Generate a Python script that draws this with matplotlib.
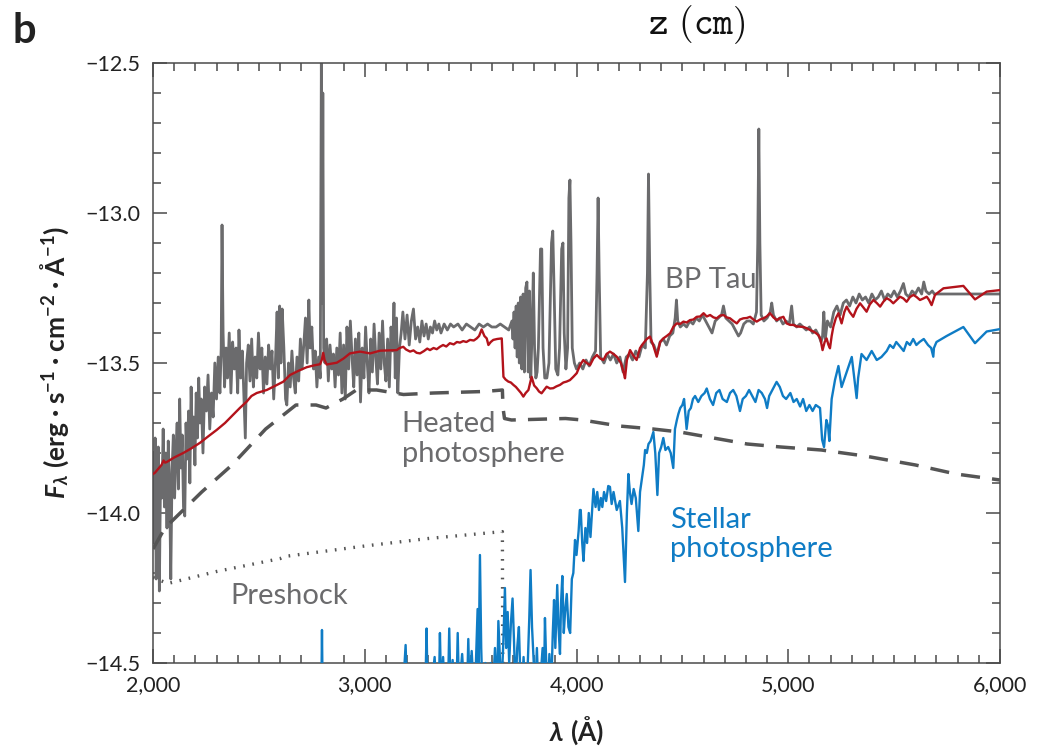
import numpy as np
import matplotlib
matplotlib.use("Agg")
import matplotlib.pyplot as plt
from matplotlib.ticker import MultipleLocator

# =========================
# 1. DATA  (wavelength in A, log10 F_lambda)
# =========================
# observed spectrum of BP Tau
bp_tau = [
    (2000, -13.80), (2005, -14.10), (2010, -13.75), (2015, -14.22), (2020, -13.90),
    (2025, -13.78), (2030, -14.26), (2036, -13.85), (2042, -13.95), (2048, -13.72),
    (2054, -13.98), (2060, -13.80), (2066, -14.05), (2072, -13.76), (2078, -13.90),
    (2084, -14.22), (2090, -13.86), (2096, -13.74), (2102, -13.95), (2108, -13.80),
    (2114, -13.70), (2120, -13.92), (2126, -13.62), (2132, -13.85), (2138, -13.74),
    (2144, -13.98), (2150, -14.01), (2156, -13.70), (2162, -13.82), (2168, -13.66),
    (2174, -13.90), (2180, -13.58), (2186, -13.78), (2192, -13.68), (2198, -13.84),
    (2204, -13.60), (2210, -13.75), (2216, -13.55), (2222, -13.70), (2228, -13.62),
    (2236, -13.80), (2244, -13.58), (2252, -13.66), (2260, -13.54), (2268, -13.72),
    (2276, -13.60), (2284, -13.68), (2292, -13.50), (2300, -13.62), (2308, -13.48),
    (2316, -13.60), (2322, -13.45), (2326, -13.04), (2331, -13.40), (2338, -13.58),
    (2345, -13.45), (2352, -13.55), (2360, -13.40), (2368, -13.60), (2376, -13.43),
    (2384, -13.52), (2392, -13.45), (2400, -13.60), (2406, -13.39), (2414, -13.55),
    (2422, -13.46), (2430, -13.62), (2436, -13.75), (2442, -13.50), (2450, -13.44),
    (2458, -13.56), (2466, -13.42), (2474, -13.58), (2482, -13.48), (2490, -13.55),
    (2498, -13.40), (2506, -13.52), (2514, -13.45), (2522, -13.60), (2530, -13.48),
    (2538, -13.57), (2546, -13.44), (2554, -13.52), (2562, -13.46), (2570, -13.62),
    (2578, -13.50), (2586, -13.33), (2592, -13.55), (2598, -13.31), (2604, -13.50),
    (2610, -13.32), (2618, -13.45), (2626, -13.62), (2632, -13.64), (2640, -13.50),
    (2648, -13.58), (2656, -13.46), (2664, -13.55), (2672, -13.60), (2680, -13.48),
    (2688, -13.56), (2696, -13.42), (2704, -13.52), (2712, -13.44), (2720, -13.35),
    (2728, -13.50), (2736, -13.29), (2742, -13.45), (2750, -13.38), (2758, -13.52),
    (2766, -13.46), (2774, -13.58), (2782, -13.48), (2790, -13.55), (2795, -12.50),
    (2799, -13.30), (2802, -12.60), (2806, -13.45), (2812, -13.50), (2820, -13.42),
    (2828, -13.56), (2836, -13.44), (2844, -13.52), (2852, -13.47), (2860, -13.58),
    (2868, -13.45), (2876, -13.54), (2884, -13.40), (2892, -13.60), (2900, -13.44),
    (2908, -13.62), (2916, -13.38), (2924, -13.52), (2932, -13.36), (2940, -13.48),
    (2948, -13.58), (2956, -13.42), (2964, -13.54), (2972, -13.40), (2980, -13.63),
    (2988, -13.45), (2996, -13.55), (3004, -13.38), (3012, -13.50), (3020, -13.60),
    (3028, -13.42), (3036, -13.53), (3044, -13.37), (3052, -13.48), (3060, -13.57),
    (3068, -13.40), (3076, -13.52), (3084, -13.36), (3092, -13.50), (3100, -13.56),
    (3108, -13.42), (3116, -13.58), (3124, -13.38), (3132, -13.46), (3138, -13.30),
    (3144, -13.55), (3150, -13.35), (3156, -13.60), (3164, -13.45), (3172, -13.40),
    (3180, -13.33), (3190, -13.42), (3200, -13.34), (3210, -13.44), (3220, -13.36),
    (3230, -13.32), (3240, -13.42), (3250, -13.38), (3260, -13.43), (3270, -13.36),
    (3280, -13.41), (3290, -13.37), (3300, -13.42), (3310, -13.38), (3320, -13.40),
    (3330, -13.36), (3340, -13.39), (3350, -13.37), (3360, -13.40), (3375, -13.37),
    (3390, -13.39), (3405, -13.37), (3420, -13.38), (3440, -13.37), (3460, -13.39),
    (3480, -13.37), (3500, -13.38), (3520, -13.39), (3540, -13.37), (3560, -13.38),
    (3580, -13.37), (3600, -13.38), (3620, -13.38), (3640, -13.37), (3660, -13.38),
    (3680, -13.39), (3695, -13.36), (3700, -13.42), (3705, -13.33), (3710, -13.45),
    (3715, -13.31), (3720, -13.48), (3725, -13.30), (3730, -13.50), (3736, -13.28),
    (3742, -13.52), (3748, -13.27), (3754, -13.53), (3760, -13.25), (3766, -13.23),
    (3772, -13.53), (3778, -13.26), (3784, -13.55), (3790, -13.40), (3796, -13.20),
    (3802, -13.45), (3808, -13.55), (3814, -13.53), (3820, -13.45), (3830, -13.12),
    (3836, -13.12), (3842, -13.45), (3850, -13.55), (3860, -13.55), (3870, -13.50),
    (3882, -13.10), (3888, -13.06), (3894, -13.25), (3902, -13.52), (3912, -13.54),
    (3920, -13.45), (3930, -13.12), (3936, -13.10), (3942, -13.40), (3950, -13.52),
    (3958, -13.45), (3964, -12.95), (3969, -12.89), (3974, -13.10), (3980, -13.45),
    (3990, -13.50), (4000, -13.52), (4015, -13.50), (4030, -13.52), (4045, -13.49),
    (4060, -13.51), (4075, -13.48), (4090, -13.46), (4097, -13.20), (4102, -12.95),
    (4107, -13.20), (4114, -13.48), (4130, -13.50), (4145, -13.47), (4160, -13.49),
    (4175, -13.47), (4190, -13.50), (4205, -13.48), (4220, -13.53), (4235, -13.48),
    (4250, -13.47), (4265, -13.49), (4280, -13.46), (4295, -13.48), (4310, -13.44),
    (4325, -13.45), (4335, -13.20), (4340, -12.87), (4346, -13.20), (4352, -13.43),
    (4365, -13.44), (4380, -13.47), (4395, -13.43), (4410, -13.42), (4425, -13.44),
    (4440, -13.41), (4455, -13.40), (4466, -13.35), (4472, -13.29), (4478, -13.36),
    (4490, -13.38), (4505, -13.37), (4520, -13.38), (4535, -13.36), (4550, -13.37),
    (4565, -13.35), (4580, -13.36), (4595, -13.34), (4610, -13.36), (4625, -13.38),
    (4640, -13.40), (4655, -13.36), (4670, -13.35), (4685, -13.34), (4694, -13.31),
    (4705, -13.35), (4720, -13.36), (4735, -13.37), (4750, -13.39), (4765, -13.41),
    (4775, -13.40), (4790, -13.37), (4805, -13.36), (4820, -13.36), (4835, -13.37),
    (4850, -13.33), (4856, -13.10), (4861, -12.72), (4866, -13.10), (4872, -13.34),
    (4885, -13.36), (4900, -13.35), (4915, -13.33), (4922, -13.30), (4930, -13.34),
    (4945, -13.36), (4960, -13.35), (4975, -13.37), (4990, -13.36), (5005, -13.37),
    (5016, -13.31), (5024, -13.37), (5040, -13.38), (5055, -13.37), (5070, -13.38),
    (5085, -13.39), (5100, -13.38), (5115, -13.40), (5130, -13.39), (5145, -13.41),
    (5155, -13.43), (5162, -13.41), (5168, -13.33), (5175, -13.42), (5185, -13.36),
    (5200, -13.38), (5215, -13.33), (5230, -13.31), (5245, -13.34), (5260, -13.30),
    (5275, -13.29), (5290, -13.31), (5305, -13.28), (5320, -13.30), (5335, -13.27),
    (5350, -13.29), (5365, -13.28), (5380, -13.30), (5395, -13.27), (5410, -13.29),
    (5425, -13.28), (5440, -13.26), (5455, -13.29), (5470, -13.27), (5485, -13.28),
    (5500, -13.26), (5515, -13.28), (5530, -13.26), (5544, -13.235), (5555, -13.27),
    (5570, -13.28), (5585, -13.26), (5600, -13.27), (5615, -13.25), (5630, -13.27),
    (5640, -13.23), (5650, -13.26), (5665, -13.27), (5680, -13.26), (5690, -13.27),
    (6000, -13.27),
]

# total accretion model (heated + preshock + stellar)
model_total = [
    (2000, -13.870), (2009, -13.866), (2040, -13.840), (2050, -13.825), (2057, -13.832),
    (2065, -13.830), (2100, -13.815), (2143, -13.800), (2180, -13.785), (2222, -13.766),
    (2260, -13.745), (2301, -13.723), (2340, -13.700), (2378, -13.673), (2410, -13.650),
    (2442, -13.629), (2465, -13.610), (2490, -13.600), (2537, -13.590), (2580, -13.575),
    (2616, -13.562), (2647, -13.540), (2690, -13.525), (2726, -13.514), (2760, -13.508),
    (2789, -13.504), (2797, -13.490), (2804, -13.466), (2810, -13.490), (2820, -13.505),
    (2868, -13.499), (2900, -13.485), (2930, -13.468), (2978, -13.462), (3025, -13.468),
    (3072, -13.459), (3151, -13.457), (3165, -13.450), (3182, -13.446), (3195, -13.455),
    (3214, -13.462), (3230, -13.458), (3245, -13.466), (3261, -13.468), (3280, -13.460),
    (3295, -13.452), (3308, -13.457), (3325, -13.450), (3340, -13.454), (3355, -13.446),
    (3370, -13.440), (3385, -13.445), (3402, -13.434), (3420, -13.438), (3435, -13.430),
    (3450, -13.432), (3465, -13.427), (3480, -13.430), (3497, -13.423), (3515, -13.425),
    (3529, -13.418), (3540, -13.410), (3552, -13.388), (3565, -13.410), (3576, -13.418),
    (3584, -13.440), (3595, -13.430), (3607, -13.423), (3625, -13.420), (3647, -13.418),
    (3652, -13.500), (3655, -13.546), (3665, -13.555), (3678, -13.562), (3690, -13.565),
    (3702, -13.573), (3714, -13.580), (3726, -13.590), (3738, -13.600), (3749, -13.612),
    (3760, -13.600), (3773, -13.590), (3780, -13.570), (3788, -13.546), (3800, -13.575),
    (3812, -13.584), (3823, -13.595), (3835, -13.601), (3847, -13.590), (3859, -13.579),
    (3875, -13.585), (3890, -13.584), (3905, -13.578), (3922, -13.573), (3938, -13.565),
    (3953, -13.562), (3969, -13.557), (3985, -13.546), (4001, -13.534), (4017, -13.507),
    (4032, -13.490), (4048, -13.500), (4064, -13.507), (4080, -13.485), (4096, -13.473),
    (4112, -13.485), (4127, -13.490), (4142, -13.470), (4158, -13.462), (4175, -13.470),
    (4190, -13.479), (4210, -13.500), (4222, -13.530), (4229, -13.551), (4238, -13.490),
    (4253, -13.457), (4268, -13.475), (4284, -13.490), (4300, -13.450), (4316, -13.434),
    (4332, -13.420), (4347, -13.412), (4362, -13.440), (4379, -13.479), (4395, -13.430),
    (4410, -13.418), (4426, -13.410), (4442, -13.401), (4457, -13.380), (4473, -13.368),
    (4489, -13.370), (4505, -13.362), (4520, -13.365), (4536, -13.357), (4552, -13.355),
    (4568, -13.346), (4584, -13.345), (4600, -13.334), (4615, -13.345), (4631, -13.340),
    (4647, -13.348), (4662, -13.351), (4678, -13.342), (4694, -13.340), (4710, -13.348),
    (4725, -13.351), (4741, -13.360), (4757, -13.368), (4772, -13.355), (4788, -13.351),
    (4804, -13.350), (4820, -13.346), (4835, -13.355), (4851, -13.362), (4867, -13.355),
    (4883, -13.351), (4898, -13.345), (4914, -13.334), (4930, -13.348), (4946, -13.357),
    (4961, -13.350), (4977, -13.346), (4992, -13.368), (5009, -13.373), (5024, -13.373),
    (5040, -13.378), (5056, -13.379), (5072, -13.380), (5087, -13.384), (5103, -13.390),
    (5118, -13.395), (5130, -13.400), (5142, -13.407), (5152, -13.420), (5162, -13.457),
    (5172, -13.430), (5181, -13.418), (5190, -13.440), (5197, -13.451), (5205, -13.410),
    (5213, -13.379), (5225, -13.350), (5237, -13.334), (5252, -13.368), (5265, -13.330),
    (5276, -13.312), (5290, -13.330), (5307, -13.346), (5322, -13.320), (5339, -13.301),
    (5355, -13.315), (5370, -13.329), (5385, -13.305), (5402, -13.290), (5418, -13.300),
    (5434, -13.312), (5450, -13.295), (5465, -13.284), (5480, -13.290), (5496, -13.301),
    (5512, -13.290), (5528, -13.279), (5544, -13.285), (5559, -13.296), (5575, -13.280),
    (5591, -13.273), (5606, -13.280), (5622, -13.290), (5638, -13.285), (5654, -13.279),
    (5665, -13.290), (5677, -13.307), (5685, -13.290), (5693, -13.273), (5733, -13.251),
    (5827, -13.243), (5882, -13.288), (5937, -13.262), (6000, -13.257),
]

# heated photosphere component (dashed)
heated = [
    (2000, -14.12), (2056, -14.05), (2230, -13.93), (2373, -13.84), (2532, -13.72),
    (2675, -13.64), (2770, -13.64), (2817, -13.65), (2897, -13.62), (2960, -13.59),
    (3056, -13.59), (3183, -13.605), (3325, -13.60), (3563, -13.595), (3650, -13.59),
    (3653, -13.65), (3660, -13.685), (3693, -13.69), (3948, -13.685), (4027, -13.69),
    (4202, -13.71), (4361, -13.72), (4488, -13.73), (4647, -13.75), (4806, -13.77),
    (4965, -13.78), (5156, -13.79), (5362, -13.81), (5601, -13.84), (5792, -13.87),
    (6000, -13.89),
]

# preshock component (dotted)
preshock = [
    (2000, -14.215), (2070, -14.235), (2300, -14.195), (2600, -14.152), (2620, -14.145),
    (3000, -14.110), (3300, -14.085), (3650, -14.062), (3652, -14.60),
]

# stellar photosphere template (blue); values below -14.5 are off the plot
stellar = [
    (2780, -14.60), (2795, -14.60), (2798, -14.39), (2801, -14.60), (3180, -14.60),
    (3193, -14.44), (3200, -14.60), (3286, -14.60), (3292, -14.385), (3297, -14.60),
    (3320, -14.55), (3330, -14.48), (3338, -14.60), (3350, -14.60), (3355, -14.40),
    (3361, -14.60), (3370, -14.48), (3378, -14.60), (3393, -14.60), (3399, -14.385),
    (3405, -14.60), (3415, -14.49), (3425, -14.60), (3433, -14.60), (3439, -14.40),
    (3445, -14.60), (3460, -14.47), (3470, -14.60), (3483, -14.60), (3489, -14.42),
    (3495, -14.60), (3505, -14.46), (3515, -14.60), (3525, -14.50), (3533, -14.32),
    (3538, -14.50), (3544, -14.14), (3550, -14.45), (3556, -14.60), (3570, -14.50),
    (3580, -14.60), (3595, -14.50), (3605, -14.60), (3615, -14.45), (3625, -14.60),
    (3631, -14.36), (3638, -14.48), (3645, -14.60), (3655, -14.42), (3662, -14.25),
    (3668, -14.45), (3675, -14.33), (3682, -14.50), (3690, -14.37), (3698, -14.285),
    (3705, -14.43), (3712, -14.60), (3720, -14.45), (3728, -14.38), (3735, -14.55),
    (3742, -14.60), (3750, -14.48), (3758, -14.60), (3770, -14.50), (3777, -14.35),
    (3783, -14.19), (3790, -14.38), (3797, -14.48), (3805, -14.60), (3813, -14.45),
    (3820, -14.60), (3830, -14.55), (3840, -14.45), (3846, -14.60), (3851, -14.35),
    (3857, -14.50), (3865, -14.60), (3872, -14.47), (3880, -14.60), (3888, -14.40),
    (3894, -14.29), (3900, -14.45), (3909, -14.24), (3915, -14.38), (3922, -14.47),
    (3927, -14.30), (3933, -14.21), (3940, -14.40), (3946, -14.33), (3954, -14.27),
    (3962, -14.38), (3970, -14.40), (3978, -14.22), (3985, -14.20), (3993, -14.09),
    (4000, -14.14), (4010, -14.06), (4016, -13.99), (4020, -13.99), (4027, -14.10),
    (4033, -14.16), (4042, -14.05), (4050, -14.10), (4058, -14.00), (4066, -14.08),
    (4080, -13.92), (4090, -13.98), (4098, -13.93), (4106, -13.99), (4115, -13.95),
    (4122, -13.98), (4130, -13.93), (4140, -13.96), (4150, -13.91), (4158, -13.913),
    (4166, -13.97), (4175, -13.93), (4190, -13.99), (4205, -13.96), (4216, -14.05),
    (4229, -14.23), (4238, -14.00), (4245, -13.87), (4252, -13.93), (4260, -13.97),
    (4270, -13.92), (4280, -13.95), (4292, -14.06), (4300, -13.93), (4310, -13.88),
    (4318, -13.84), (4324, -13.79), (4332, -13.80), (4340, -13.77), (4350, -13.76),
    (4363, -13.73), (4372, -13.80), (4382, -13.94), (4390, -13.80), (4400, -13.78),
    (4410, -13.75), (4420, -13.79), (4433, -13.78), (4445, -13.80), (4457, -13.85),
    (4465, -13.72), (4474, -13.69), (4481, -13.67), (4490, -13.65), (4500, -13.64),
    (4508, -13.62), (4514, -13.67), (4520, -13.72), (4530, -13.66), (4540, -13.65),
    (4550, -13.62), (4560, -13.61), (4575, -13.63), (4590, -13.61), (4605, -13.60),
    (4615, -13.585), (4630, -13.62), (4645, -13.64), (4660, -13.60), (4675, -13.59),
    (4690, -13.62), (4710, -13.63), (4725, -13.60), (4740, -13.59), (4755, -13.61),
    (4772, -13.66), (4785, -13.62), (4800, -13.61), (4815, -13.59), (4830, -13.61),
    (4845, -13.63), (4860, -13.59), (4875, -13.60), (4890, -13.62), (4900, -13.65),
    (4910, -13.61), (4925, -13.59), (4945, -13.563), (4960, -13.58), (4975, -13.61),
    (4990, -13.62), (5010, -13.60), (5025, -13.63), (5040, -13.62), (5056, -13.645),
    (5070, -13.62), (5085, -13.66), (5100, -13.64), (5115, -13.66), (5130, -13.64),
    (5150, -13.65), (5160, -13.756), (5169, -13.78), (5180, -13.69), (5188, -13.71),
    (5194, -13.76), (5205, -13.62), (5221, -13.556), (5237, -13.51), (5252, -13.58),
    (5276, -13.53), (5300, -13.48), (5312, -13.55), (5323, -13.617), (5330, -13.55),
    (5346, -13.47), (5370, -13.49), (5394, -13.46), (5418, -13.49), (5440, -13.48),
    (5465, -13.46), (5480, -13.44), (5496, -13.45), (5510, -13.43), (5528, -13.445),
    (5545, -13.46), (5560, -13.43), (5575, -13.44), (5590, -13.42), (5605, -13.44),
    (5620, -13.43), (5640, -13.42), (5660, -13.44), (5675, -13.45), (5685, -13.479),
    (5688, -13.45), (5700, -13.43), (5748, -13.41), (5827, -13.38), (5882, -13.434),
    (5937, -13.395), (6000, -13.387),
]

x_ticks = [2000, 3000, 4000, 5000, 6000]
x_ticklabels = ["2,000", "3,000", "4,000", "5,000", "6,000"]
y_ticks = [-14.5, -14.0, -13.5, -13.0, -12.5]
y_ticklabels = ["\u221214.5", "\u221214.0", "\u221213.5", "\u221213.0", "\u221212.5"]

# =========================
# 2. STYLE
# =========================
plt.rcParams["font.family"] = ["Lato", "DejaVu Sans"]
plt.rcParams["mathtext.fontset"] = "custom"
plt.rcParams["mathtext.rm"] = "Lato"
plt.rcParams["mathtext.it"] = "Lato:italic"
plt.rcParams["mathtext.bf"] = "Lato:bold"
plt.rcParams["mathtext.bfit"] = "Lato:italic:bold"
plt.rcParams["mathtext.fallback"] = "stixsans"

GRAY = "#6b6b6d"
RED = "#b3131b"
BLUE = "#0f7cc5"
DARK = "#555555"
AXIS = "#4a4a4a"

# =========================
# 3. PLOT
# =========================
fig = plt.figure(figsize=(10.43, 7.51), dpi=100)
ax = fig.add_axes([153 / 1043, 1 - 663 / 751, 847 / 1043, 600 / 751])

w, f = np.array(bp_tau).T
ax.plot(w, f, color=GRAY, lw=2.0, zorder=2)

w, f = np.array(preshock).T
ax.plot(w, f, color=DARK, lw=2.4, linestyle=(0, (0.5, 2.3)), zorder=3)

w, f = np.array(heated).T
ax.plot(w, f, color=DARK, lw=2.5, linestyle=(0, (5.5, 3.5)), zorder=3)

w, f = np.array(stellar).T
ax.plot(w, f, color=BLUE, lw=1.7, zorder=4)

w, f = np.array(model_total).T
ax.plot(w, f, color=RED, lw=1.7, zorder=5)

# labels on the curves
ax.text(4418, -13.25, "BP Tau", color=GRAY, fontsize=21, va="baseline")
ax.text(3175, -13.729, "Heated", color=GRAY, fontsize=21, va="baseline")
ax.text(3175, -13.829, "photosphere", color=GRAY, fontsize=21, va="baseline")
ax.text(2364, -14.303, "Preshock", color=GRAY, fontsize=21, va="baseline")
ax.text(4442, -14.05, "Stellar", color=BLUE, fontsize=21, va="baseline")
ax.text(4442, -14.146, "photosphere", color=BLUE, fontsize=21, va="baseline")

# --- axes ---
ax.set_xlim(2000, 6000)
ax.set_ylim(-14.5, -12.5)
ax.set_xticks(x_ticks)
ax.set_xticklabels(x_ticklabels)
ax.set_yticks(y_ticks)
ax.set_yticklabels(y_ticklabels)
ax.xaxis.set_minor_locator(MultipleLocator(100))
ax.yaxis.set_minor_locator(MultipleLocator(0.1))
ax.tick_params(which="both", direction="in", top=True, right=True,
               color=AXIS, width=1.1, labelsize=15.5, labelcolor="#222222")
ax.tick_params(which="major", length=10, pad=9)
ax.tick_params(which="minor", length=6)
for s in ax.spines.values():
    s.set_color(AXIS)
    s.set_linewidth(1.1)

ax.set_xlabel(r"$\mathbfit{\lambda}\ \mathbf{(Å)}$", fontsize=19, labelpad=14,
              color="#222222")
ax.set_ylabel(r"$\mathbfit{F}_{\mathbfit{\lambda}}\ \mathbf{(erg\;·\;s^{-1}\;·\;cm^{-2}\;·\;Å^{-1})}$",
              fontsize=19, labelpad=10, color="#222222")

# panel letter and the axis title left over from the panel above
fig.text(0.012, 1 - 43 / 751, "b", fontsize=30, fontweight="bold", color="#222222")
fig.text(697 / 1043, 1 - 34 / 751, r"$\mathtt{z\ (cm)}$", fontsize=27, ha="center",
         math_fontfamily="cm", color="#111111")

fig.savefig("out.png", dpi=100)
